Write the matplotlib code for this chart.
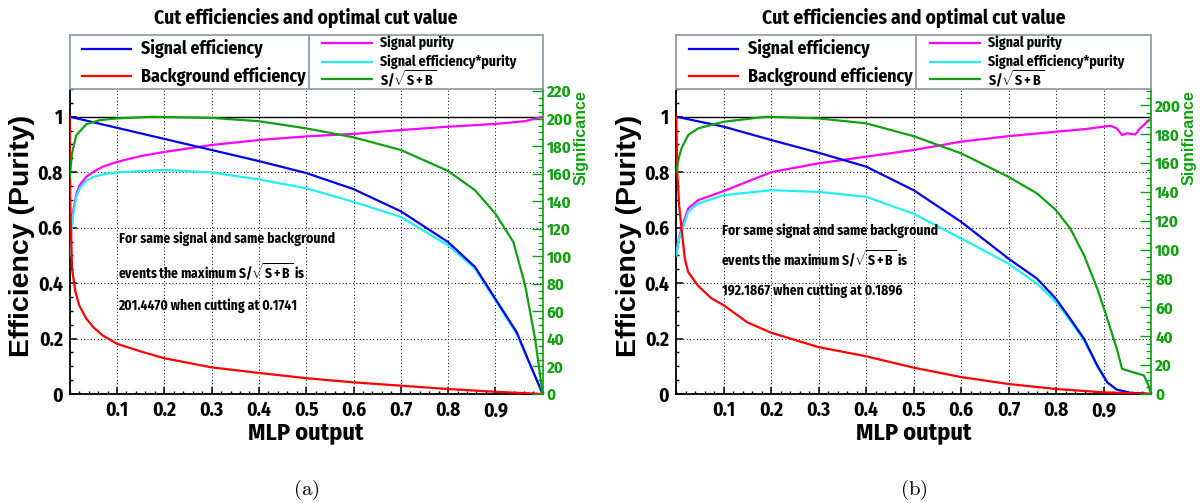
import matplotlib
matplotlib.use('Agg')
import matplotlib.pyplot as plt
from matplotlib import font_manager
from matplotlib.ticker import FixedLocator, MultipleLocator, FuncFormatter

# ROOT helvetica-bold looks condensed in this picture -> pick a condensed face if there is one
names = {f.name for f in font_manager.fontManager.ttflist}
NARROW = 'Liberation Sans'
SZ = 0.86  # shrink factor when only the wide face is available
for cand in ['Liberation Sans Narrow', 'Fira Sans Condensed', 'Roboto Condensed']:
    if cand in names:
        NARROW = cand
        SZ = 1.0
        break
WIDE = 'Liberation Sans'
plt.rcParams['font.family'] = [NARROW, 'DejaVu Sans']
plt.rcParams['font.weight'] = 'bold'
plt.rcParams['mathtext.fontset'] = 'custom'
plt.rcParams['mathtext.rm'] = NARROW + ':bold'
plt.rcParams['mathtext.it'] = NARROW + ':bold'
plt.rcParams['mathtext.bf'] = NARROW + ':bold'

# ---------------- panel (a) ----------------
a_effS_x = [0, 0.05, 0.1, 0.2, 0.3, 0.4, 0.5, 0.6, 0.7, 0.8, 0.857, 0.9, 0.945, 0.973, 1.0]
a_effS_y = [1.0, 0.98, 0.96, 0.92, 0.88, 0.84, 0.797, 0.739, 0.659, 0.548, 0.458, 0.343, 0.223, 0.108, 0.0]

a_effB_x = [0, 0.001, 0.005, 0.012, 0.02, 0.035, 0.05, 0.07, 0.1, 0.155, 0.2, 0.3, 0.4, 0.5, 0.6, 0.7, 0.8, 0.9, 1.0]
a_effB_y = [1.0, 0.70, 0.45, 0.37, 0.32, 0.272, 0.241, 0.211, 0.181, 0.151, 0.129, 0.096, 0.076, 0.057, 0.042, 0.030, 0.018, 0.008, 0.0]

a_pur_x = [0, 0.003, 0.007, 0.014, 0.021, 0.035, 0.05, 0.07, 0.1, 0.15, 0.2, 0.3, 0.4, 0.5, 0.6, 0.7, 0.8, 0.9, 0.963, 1.0]
a_pur_y = [0.50, 0.58, 0.657, 0.72, 0.753, 0.783, 0.801, 0.82, 0.837, 0.858, 0.873, 0.898, 0.916, 0.929, 0.938, 0.952, 0.964, 0.974, 0.984, 1.0]

a_ep_x = [0, 0.003, 0.007, 0.014, 0.021, 0.035, 0.05, 0.07, 0.1, 0.2, 0.3, 0.4, 0.5, 0.6, 0.7, 0.8, 0.857, 0.9, 0.945, 1.0]
a_ep_y = [0.50, 0.58, 0.645, 0.71, 0.741, 0.77, 0.783, 0.792, 0.799, 0.808, 0.799, 0.774, 0.742, 0.693, 0.639, 0.536, 0.452, 0.337, 0.217, 0.0]

a_sig_x = [0, 0.005, 0.014, 0.035, 0.064, 0.1, 0.174, 0.3, 0.4, 0.5, 0.6, 0.7, 0.8, 0.857, 0.9, 0.938, 0.963, 0.984, 1.0]
a_sig_y = [157, 175, 188, 196, 199, 200.2, 201.4, 200.6, 198.2, 193, 186.5, 177.3, 162, 148, 131, 110.4, 78.8, 40, 0]

a_best_sig = 201.4470
a_best_cut = 0.1741

# ---------------- panel (b) ----------------
b_effS_x = [0, 0.1, 0.2, 0.3, 0.4, 0.5, 0.6, 0.7, 0.76, 0.8, 0.83, 0.859, 0.887, 0.908, 0.928, 0.957, 1.0]
b_effS_y = [1.0, 0.964, 0.916, 0.87, 0.82, 0.735, 0.621, 0.488, 0.416, 0.343, 0.271, 0.199, 0.102, 0.042, 0.016, 0.004, 0.0]

b_effB_x = [0, 0.002, 0.006, 0.011, 0.018, 0.025, 0.046, 0.074, 0.1, 0.15, 0.2, 0.3, 0.4, 0.5, 0.6, 0.7, 0.8, 0.9, 1.0]
b_effB_y = [1.0, 0.80, 0.68, 0.597, 0.488, 0.44, 0.39, 0.345, 0.32, 0.258, 0.221, 0.169, 0.136, 0.095, 0.061, 0.036, 0.018, 0.006, 0.0]

b_pur_x = [0, 0.004, 0.011, 0.025, 0.046, 0.1, 0.15, 0.2, 0.3, 0.4, 0.5, 0.6, 0.7, 0.8, 0.859, 0.9, 0.915, 0.928, 0.939, 0.95, 0.967, 0.977, 0.996]
b_pur_y = [0.50, 0.55, 0.597, 0.669, 0.699, 0.732, 0.766, 0.80, 0.832, 0.856, 0.88, 0.91, 0.93, 0.946, 0.955, 0.964, 0.967, 0.958, 0.934, 0.94, 0.936, 0.958, 0.988]

b_ep_x = [0, 0.004, 0.011, 0.025, 0.046, 0.1, 0.2, 0.3, 0.4, 0.5, 0.6, 0.7, 0.76, 0.8, 0.83, 0.859, 0.887, 0.908, 0.928, 0.957, 1.0]
b_ep_y = [0.50, 0.55, 0.585, 0.657, 0.687, 0.717, 0.735, 0.729, 0.711, 0.65, 0.561, 0.47, 0.398, 0.331, 0.265, 0.193, 0.099, 0.04, 0.015, 0.004, 0.0]

b_sig_x = [0, 0.005, 0.011, 0.025, 0.046, 0.1, 0.19, 0.3, 0.4, 0.5, 0.6, 0.7, 0.76, 0.8, 0.83, 0.859, 0.887, 0.908, 0.928, 0.939, 0.957, 0.985, 0.995, 1.0]
b_sig_y = [153.7, 163.4, 170.3, 179.5, 184.1, 188.7, 192.2, 191.0, 187.6, 178.7, 166.8, 150.5, 139.0, 127.4, 114.7, 96.1, 73.0, 52.1, 31.3, 17.5, 15.6, 12.9, 5.8, 0]

b_best_sig = 192.1867
b_best_cut = 0.1896

x_ticks = [0.1, 0.2, 0.3, 0.4, 0.5, 0.6, 0.7, 0.8, 0.9]
y_ticks = [0, 0.2, 0.4, 0.6, 0.8, 1.0]

BLUE = '#0000ee'
RED = '#ff0000'
MAGENTA = '#ff00ff'
CYAN = '#22f0f0'
GREEN = '#10a010'
FRAME = '#8a96a4'

fig = plt.figure(figsize=(12, 5.03), dpi=100)
W, H = 1200.0, 503.0


def draw_panel(x0px, x1px, effS, effB, pur, ep, sig, best_sig, best_cut, note_pos, caption):
    bottom = 1 - 394.0 / H
    top = 1 - 89.0 / H
    ax = fig.add_axes([x0px / W, bottom, (x1px - x0px) / W, top - bottom])
    ymax = 1.1

    ax.plot(effS[0], effS[1], color=BLUE, lw=1.6, zorder=5)
    ax.plot(effB[0], effB[1], color=RED, lw=1.6, zorder=5)
    ax.plot(pur[0], pur[1], color=MAGENTA, lw=1.6, zorder=4)
    ax.plot(ep[0], ep[1], color=CYAN, lw=1.6, zorder=4)
    ax.axhline(1.0, color='black', lw=1.0, zorder=3)

    ax.set_xlim(0, 1)
    ax.set_ylim(0, ymax)
    ax.xaxis.set_major_locator(FixedLocator(x_ticks))
    ax.xaxis.set_minor_locator(MultipleLocator(0.02))
    ax.yaxis.set_major_locator(FixedLocator(y_ticks))
    ax.yaxis.set_minor_locator(MultipleLocator(0.05))
    ax.yaxis.set_major_formatter(FuncFormatter(lambda v, p: '%g' % v))
    ax.xaxis.set_major_formatter(FuncFormatter(lambda v, p: '%g' % v))
    ax.tick_params(axis='both', which='major', direction='in', length=5, width=1.1, labelsize=14 * SZ, pad=5)
    ax.tick_params(axis='both', which='minor', direction='in', length=2.5, width=1.0)
    ax.tick_params(top=False, right=False, which='both')
    ax.grid(True, which='major', color='black', lw=0.7, linestyle=(0, (1, 2.5)))
    for s in ['left', 'bottom']:
        ax.spines[s].set_linewidth(1.3)
    ax.spines['top'].set_visible(False)
    ax.spines['right'].set_visible(False)

    # significance on right axis
    ax2 = ax.twinx()
    ax2.plot(sig[0], sig[1], color=GREEN, lw=1.6, zorder=5)
    ax2.set_ylim(0, ymax * best_sig)
    ax2.yaxis.set_major_locator(MultipleLocator(20))
    ax2.yaxis.set_minor_locator(MultipleLocator(5))
    ax2.tick_params(axis='y', which='major', direction='in', length=8, width=1.0, colors=GREEN, labelsize=12 * SZ, pad=3)
    ax2.tick_params(axis='y', which='minor', direction='in', length=3.5, width=1.0, colors=GREEN)
    ax2.spines['right'].set_color(GREEN)
    ax2.spines['right'].set_linewidth(1.2)
    for s in ['left', 'top', 'bottom']:
        ax2.spines[s].set_visible(False)
    fig.text((x1px + 38) / W, 1 - 137.5 / H, 'Significance', rotation=90, color=GREEN,
             fontsize=11.5, family=WIDE, weight='bold', ha='center', va='center')

    # note text
    fs = 9.8 * SZ
    ax.text(note_pos[0][0], note_pos[0][1], 'For same signal and same background', fontsize=fs, va='center', zorder=6)
    ax.text(note_pos[1][0], note_pos[1][1], r'events the maximum S/$\sqrt{\mathrm{S+B}}$ is', fontsize=fs, va='center', zorder=6)
    ax.text(note_pos[2][0], note_pos[2][1], '%.4f when cutting at %.4f' % (best_sig, best_cut), fontsize=fs, va='center', zorder=6)

    # axis titles
    fig.text((x0px - 47.5) / W, 1 - 235.5 / H, 'Efficiency (Purity)', rotation=90, fontsize=20.5,
             family=WIDE, weight='bold', ha='center', va='center')
    fig.text((x0px + x1px) / 2 / W, 1 - 433.0 / H, 'MLP output', fontsize=17.5 * SZ, ha='center', va='center')
    fig.text((x0px + x1px) / 2 / W, 1 - 490.0 / H, r'$\mathrm{(%s)}$' % caption, fontsize=15,
             ha='center', va='center', math_fontfamily='cm')
    fig.text((x0px + x1px) / 2 / W, 1 - 18.0 / H, 'Cut efficiencies and optimal cut value', fontsize=14 * SZ,
             ha='center', va='center')

    # legend box
    lg = fig.add_axes([x0px / W, top, (x1px - x0px) / W, 54.0 / H])
    lg.set_xlim(0, 1)
    lg.set_ylim(0, 54)
    lg.set_xticks([])
    lg.set_yticks([])
    for s in lg.spines.values():
        s.set_color(FRAME)
        s.set_linewidth(1.2)
    lg.axvline(0.506, color=FRAME, lw=1.2)
    left_items = [(BLUE, 'Signal efficiency', 54 - 14), (RED, 'Background efficiency', 54 - 41)]
    for c, t, yy in left_items:
        lg.plot([0.026, 0.13], [yy, yy], color=c, lw=1.6)
        lg.text(0.151, yy, t, fontsize=12.8 * SZ, va='center')
    right_items = [(MAGENTA, 'Signal purity', 54 - 8), (CYAN, 'Signal efficiency*purity', 54 - 27),
                   (GREEN, r'S/$\sqrt{\mathrm{S+B}}$', 54 - 44)]
    for c, t, yy in right_items:
        lg.plot([0.534, 0.64], [yy, yy], color=c, lw=1.6)
        lg.text(0.656, yy, t, fontsize=10 * SZ, va='center')


draw_panel(69.7, 542.7, (a_effS_x, a_effS_y), (a_effB_x, a_effB_y), (a_pur_x, a_pur_y),
           (a_ep_x, a_ep_y), (a_sig_x, a_sig_y), a_best_sig, a_best_cut,
           [(0.105, 0.56), (0.102, 0.44), (0.102, 0.32)], 'a')
draw_panel(676.3, 1151.0, (b_effS_x, b_effS_y), (b_effB_x, b_effB_y), (b_pur_x, b_pur_y),
           (b_ep_x, b_ep_y), (b_sig_x, b_sig_y), b_best_sig, b_best_cut,
           [(0.097, 0.59), (0.095, 0.484), (0.097, 0.373)], 'b')

fig.savefig('out.png', dpi=100)
